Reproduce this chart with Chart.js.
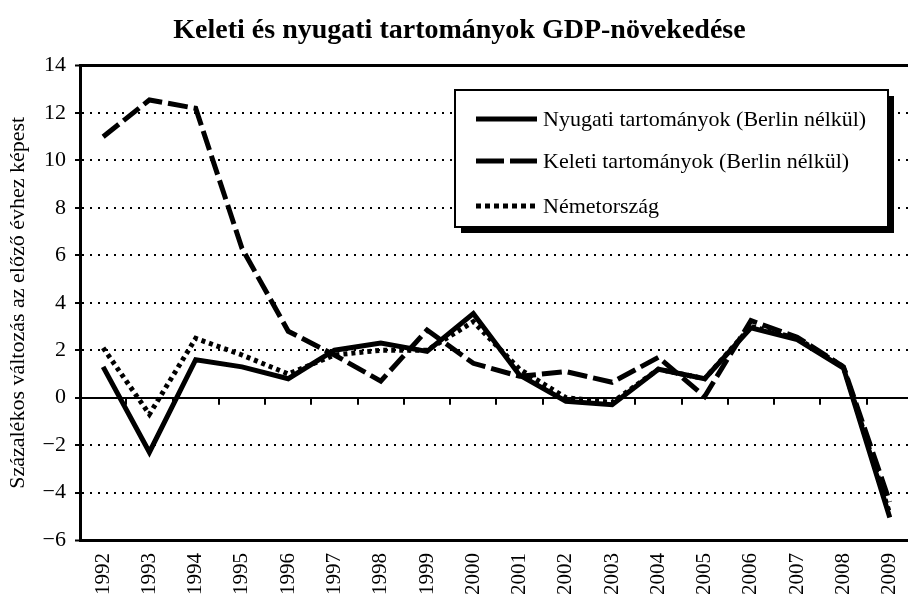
<!DOCTYPE html>
<html>
<head>
<meta charset="utf-8">
<script src="https://cdn.jsdelivr.net/npm/chart.js@4/dist/chart.umd.min.js"></script>
<style>
  html, body { margin: 0; padding: 0; background: #fff; overflow: hidden; }
  #wrap { position: relative; width: 920px; height: 594px; }
</style>
</head>
<body>
<div id="wrap"><canvas id="c" width="920" height="594"></canvas></div>
<script>
const years = ['1992','1993','1994','1995','1996','1997','1998','1999','2000','2001','2002','2003','2004','2005','2006','2007','2008','2009'];
const nyugati = [1.3, -2.3, 1.6, 1.3, 0.8, 2.0, 2.3, 1.95, 3.55, 0.95, -0.15, -0.3, 1.2, 0.8, 2.95, 2.45, 1.25, -5.05];
const keleti  = [11.0, 12.55, 12.2, 6.3, 2.8, 1.8, 0.7, 2.85, 1.45, 0.9, 1.1, 0.65, 1.7, 0.05, 3.25, 2.55, 1.3, -4.4];
const nemet   = [2.1, -0.7, 2.5, 1.8, 1.0, 1.8, 2.0, 2.0, 3.2, 1.2, 0.0, -0.2, 1.2, 0.8, 3.0, 2.5, 1.3, -4.9];
const seriesLabels = ['Nyugati tartományok (Berlin nélkül)', 'Keleti tartományok (Berlin nélkül)', 'Németország'];
const titleText = 'Keleti és nyugati tartományok GDP-növekedése';
const yTitle = 'Százalékos változás az előző évhez képest';

const SERIF = '"Liberation Serif", "Times New Roman", "DejaVu Serif", serif';

const zeroTicks = {
  id: 'zeroTicks',
  afterDatasetsDraw(chart) {
    const x = chart.scales.x, y = chart.scales.y, ctx = chart.ctx;
    const y0 = y.getPixelForValue(0);
    ctx.save();
    ctx.strokeStyle = '#000';
    ctx.lineWidth = 2;
    ctx.beginPath();
    for (let i = 1; i < years.length; i++) {
      const px = Math.round((x.getPixelForTick(i - 1) + x.getPixelForTick(i)) / 2);
      ctx.moveTo(px, y0);
      ctx.lineTo(px, y0 + 7);
    }
    ctx.stroke();
    ctx.restore();
  }
};

const boxLegend = {
  id: 'boxLegend',
  afterDraw(chart) {
    const ctx = chart.ctx;
    const bx = 455, by = 90, bw = 433, bh = 137;
    ctx.save();
    ctx.fillStyle = '#000';
    ctx.fillRect(bx + 6, by + 6, bw, bh);
    ctx.fillStyle = '#fff';
    ctx.fillRect(bx, by, bw, bh);
    ctx.strokeStyle = '#000';
    ctx.lineWidth = 2;
    ctx.strokeRect(bx, by, bw, bh);
    const rows = [119, 161, 206];
    const dashes = [[], [28, 6], [5, 4]];
    ctx.font = '22px ' + SERIF;
    ctx.textBaseline = 'middle';
    ctx.textAlign = 'left';
    chart.data.datasets.forEach((ds, i) => {
      ctx.beginPath();
      ctx.setLineDash(dashes[i]);
      ctx.lineWidth = 5;
      ctx.lineCap = 'butt';
      ctx.moveTo(476, rows[i]);
      ctx.lineTo(537, rows[i]);
      ctx.stroke();
      ctx.setLineDash([]);
      ctx.fillStyle = '#000';
      ctx.fillText(ds.label, 543, rows[i] + 1);
    });
    ctx.restore();
  }
};

const special = v => v === 0 || v === 14 || v === -6;

new Chart(document.getElementById('c'), {
  type: 'line',
  data: {
    labels: years,
    datasets: [
      { label: seriesLabels[0], data: nyugati, borderColor: '#000', borderWidth: 5, borderDash: [], pointRadius: 0, tension: 0, borderJoinStyle: 'miter', fill: false },
      { label: seriesLabels[1], data: keleti, borderColor: '#000', borderWidth: 5, borderDash: [20, 6], pointRadius: 0, tension: 0, borderJoinStyle: 'miter', fill: false },
      { label: seriesLabels[2], data: nemet, borderColor: '#000', borderWidth: 5, borderDash: [4, 4], pointRadius: 0, tension: 0, borderJoinStyle: 'miter', fill: false }
    ]
  },
  options: {
    responsive: false,
    animation: false,
    events: [],
    layout: { padding: { left: 0, right: 1, top: 0, bottom: 0 } },
    plugins: {
      legend: { display: false },
      tooltip: { enabled: false },
      title: {
        display: true,
        text: titleText,
        color: '#000',
        font: { family: SERIF, size: 28, weight: 'bold' },
        padding: { top: 14, bottom: 18 }
      }
    },
    scales: {
      x: {
        type: 'category',
        offset: true,
        grid: { display: false, offset: true },
        border: { display: true, color: '#000', width: 3 },
        ticks: { color: '#000', font: { family: SERIF, size: 21 }, minRotation: 90, maxRotation: 90, padding: 5, autoSkip: false },
        afterFit(s) { s.height = 54; }
      },
      y: {
        min: -6, max: 14,
        ticks: {
          stepSize: 2, color: '#000', padding: 9,
          font: { family: SERIF, size: 22 },
          callback: v => (v < 0 ? '\u2212' + Math.abs(v) : String(v))
        },
        grid: {
          color: '#000',
          lineWidth: ctx => (ctx.tick && (ctx.tick.value === 14 || ctx.tick.value === -6) ? 3 : 2),
          drawTicks: true, tickLength: 5, tickColor: '#000', tickWidth: 2
        },
        border: {
          display: true, color: '#000', width: 3,
          dash: ctx => (ctx.tick && !special(ctx.tick.value) ? [2, 6] : [])
        },
        title: {
          display: true, text: yTitle, color: '#000',
          font: { family: SERIF, size: 22 },
          padding: { top: 5, bottom: 0 }
        },
        afterFit(s) { s.width = 80; }
      }
    }
  },
  plugins: [zeroTicks, boxLegend]
});
</script>
</body>
</html>
